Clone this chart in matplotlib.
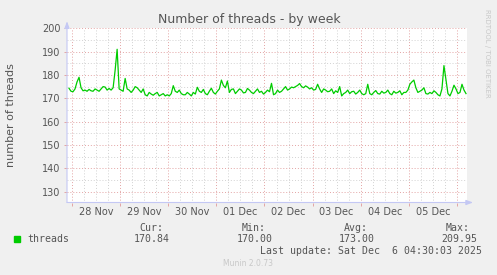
import matplotlib
matplotlib.use("Agg")
import matplotlib.pyplot as plt
import matplotlib.dates as mdates
import pandas as pd
import numpy as np

# threads, hourly samples
start = "2025-11-27 22:30"
threads = [174.3, 173.0, 172.8, 174.0, 177.0, 179.0, 174.5, 173.2, 173.5, 173.0,
           173.8, 173.2, 173.0, 174.0, 173.5, 173.0, 174.0, 175.0, 174.8, 173.5,
           174.2, 173.5, 174.5, 182.0, 191.0, 174.0, 173.5, 173.0, 178.5, 174.0,
           173.5, 172.5, 173.5, 175.0, 174.5, 173.5, 172.5, 174.0, 171.5, 171.0,
           172.5, 171.8, 171.3, 172.0, 172.5, 171.0, 171.5, 172.0, 171.0, 171.5,
           171.0, 172.0, 175.4, 173.0, 172.5, 173.5, 172.0, 171.5, 171.5, 172.5,
           171.8, 171.0, 172.5, 171.8, 174.7, 173.0, 172.5, 173.8, 172.0, 171.5,
           173.0, 174.3, 172.5, 171.8, 173.0, 174.0, 177.8, 175.5, 174.5, 177.4,
           172.5, 173.8, 174.0, 172.0, 173.0, 174.0, 173.5, 172.3, 172.5, 174.2,
           173.5, 172.5, 172.0, 173.0, 174.0, 172.5, 173.0, 171.8, 172.5, 173.5,
           172.8, 176.4, 171.5, 172.0, 173.5, 172.5, 173.0, 174.0, 175.0, 173.5,
           174.0, 174.8, 174.5, 175.0, 175.5, 176.3, 175.0, 174.5, 175.3, 174.8,
           174.0, 174.5, 173.5, 173.8, 176.0, 174.0, 172.5, 174.0, 173.5, 172.8,
           173.0, 174.0, 172.0, 173.2, 172.5, 175.0, 171.0, 172.0, 172.5, 173.5,
           172.0, 172.8, 173.0, 171.8, 172.5, 173.5, 172.0, 171.5, 172.0, 176.0,
           172.0, 171.5, 172.5, 173.3, 172.0, 171.8, 173.0, 172.2, 172.5, 173.5,
           172.0, 171.5, 173.0, 172.2, 172.5, 173.2, 171.5, 172.5, 172.5, 173.5,
           176.0, 177.0, 177.8, 174.5, 172.5, 173.0, 173.5, 174.5, 172.0, 171.8,
           172.5, 172.0, 173.2, 172.5, 171.5, 171.0, 174.0, 184.0, 178.0, 172.0,
           171.0, 173.0, 175.6, 174.0, 172.0, 172.5, 176.0, 173.5, 172.0]
times = pd.date_range(start, periods=len(threads), freq="1h")

day_labels = ["28 Nov", "29 Nov", "30 Nov", "01 Dec", "02 Dec", "03 Dec", "04 Dec", "05 Dec"]
days = pd.date_range("2025-11-28", periods=9, freq="D")
x_start = pd.Timestamp("2025-11-27 21:30")
x_end = pd.Timestamp("2025-12-06 05:00")

cur, vmin, avg, vmax = "170.84", "170.00", "173.00", "209.95"

W, H = 497, 275
fig = plt.figure(figsize=(W / 100, H / 100), dpi=100, facecolor="#f0f0f0")
ax = fig.add_axes([67 / W, (H - 202.5) / H, 400 / W, (202.5 - 28.3) / H])
ax.set_facecolor("white")

ax.plot(times, threads, color="#00cc00", lw=0.9)

ax.set_xlim(x_start, x_end)
ax.set_ylim(125.3, 200)

red = "#e3a4a4"
grey = "#d2d2d2"
ax.set_yticks(np.arange(130, 201, 10))
ax.set_yticks(np.arange(135, 200, 10), minor=True)
ax.xaxis.set_major_locator(mdates.DayLocator())
ax.xaxis.set_minor_locator(mdates.HourLocator(byhour=[6, 12, 18]))
ax.xaxis.set_major_formatter(plt.NullFormatter())
ax.grid(which="major", color=red, lw=0.7, ls=(0, (1, 2)))
ax.grid(which="minor", color=grey, lw=0.7, ls=(0, (1, 2)))
ax.set_axisbelow(True)
ax.tick_params(which="major", length=2.5, width=0.7, color=red, labelsize=7,
               labelcolor="#555555", pad=2)
ax.tick_params(which="minor", length=0)
for s in ax.spines.values():
    s.set_visible(False)

# x labels centred on each day
trans = ax.get_xaxis_transform()
for d, lab in zip(days, day_labels):
    ax.text(d + pd.Timedelta(hours=12), -0.055, lab, transform=trans, ha="center",
            va="center", fontsize=7, color="#555555")

# axes with arrows
axis_col = "#c4c8f4"
arrow = dict(arrowstyle="-|>,head_length=0.4,head_width=0.15",
             color=axis_col, lw=0.8, shrinkA=0, shrinkB=0)
ax.annotate("", xy=(0, 1.04), xytext=(0, 0), xycoords="axes fraction",
            arrowprops=arrow, annotation_clip=False)
ax.annotate("", xy=(1.015, 0), xytext=(0, 0), xycoords="axes fraction",
            arrowprops=arrow, annotation_clip=False)

fig.text(249 / W, 1 - 19 / H, "Number of threads - by week", ha="center",
         va="center", fontsize=9, color="#555555")
fig.text(11 / W, 1 - 115 / H, "number of threads", rotation=90, ha="center",
         va="center", fontsize=8, color="#555555")
fig.text(487 / W, 1 - 53 / H, "RRDTOOL / TOBI OETIKER", rotation=-90, ha="center",
         va="center", fontsize=5, color="#c8c8c8")

# legend block
mono = dict(family="DejaVu Sans Mono", fontsize=7.1, color="#555555", va="center")
fig.patches.append(plt.Rectangle((14 / W, 1 - 242 / H), 6 / W, 6 / H,
                                 transform=fig.transFigure, color="#00cc00"))
fig.text(27 / W, 1 - 239.5 / H, "threads", ha="left", **mono)
for head, val, xh, xv in [("Cur:", cur, 163, 170), ("Min:", vmin, 266, 273),
                          ("Avg:", avg, 368, 375), ("Max:", vmax, 470, 477)]:
    fig.text(xh / W, 1 - 228 / H, head, ha="right", **mono)
    fig.text(xv / W, 1 - 239.5 / H, val, ha="right", **mono)
fig.text(482 / W, 1 - 251 / H, "Last update: Sat Dec  6 04:30:03 2025", ha="right", **mono)
fig.text(248 / W, 1 - 264 / H, "Munin 2.0.73", ha="center", va="center",
         fontsize=5.5, color="#c8c8c8")

fig.savefig("out.png", dpi=100, facecolor=fig.get_facecolor())
